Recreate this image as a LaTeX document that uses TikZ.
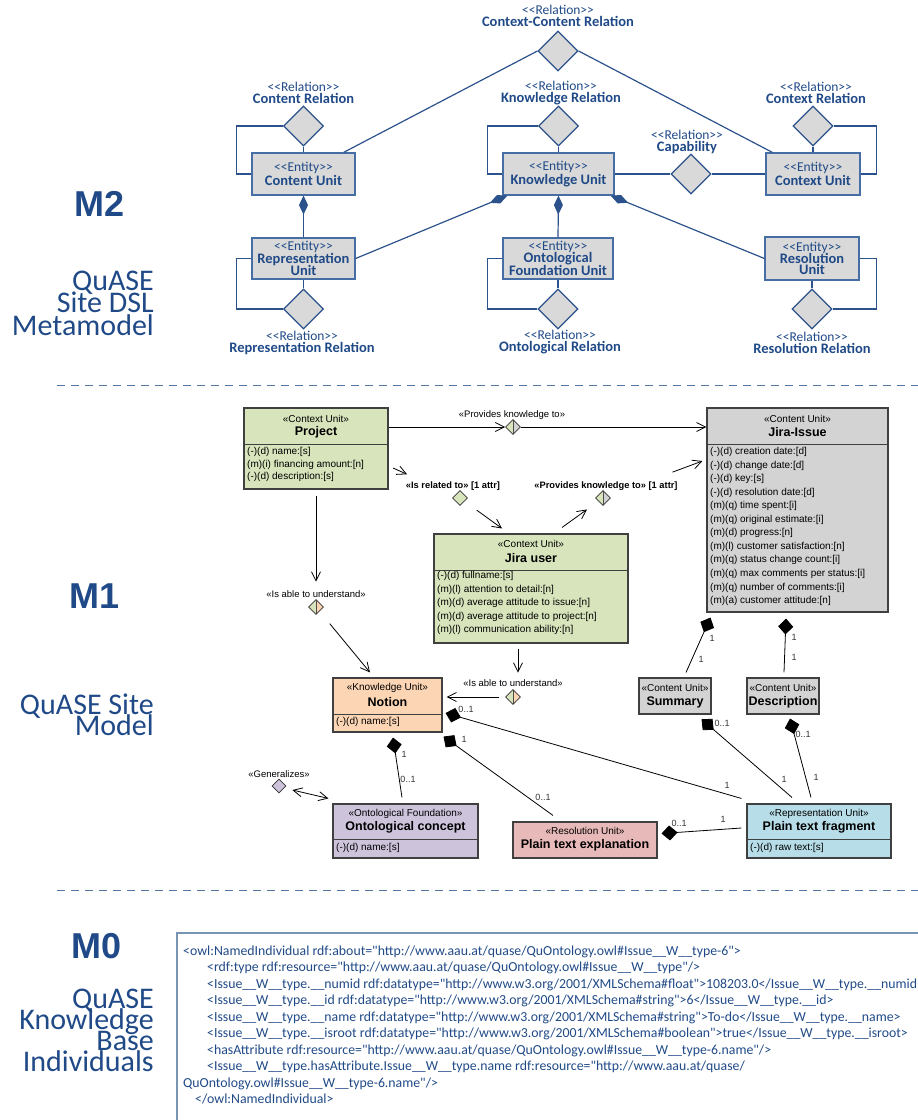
\documentclass[tikz,border=0pt]{standalone}
\usepackage{fontspec}
\usetikzlibrary{arrows.meta,shapes.geometric}
\newfontfamily\calf{Carlito}
\newfontfamily\arif{Liberation Sans}
\definecolor{mblue}{RGB}{32,74,135}
\definecolor{mline}{RGB}{44,82,140}
\definecolor{mbord}{RGB}{70,110,165}
\definecolor{mgray}{RGB}{217,217,217}
\definecolor{pgreen}{RGB}{216,228,188}
\definecolor{pgray}{RGB}{211,211,211}
\definecolor{ppeach}{RGB}{252,213,180}
\definecolor{plav}{RGB}{205,196,220}
\definecolor{ppink}{RGB}{231,185,184}
\definecolor{pblue}{RGB}{183,221,232}
\definecolor{dashc}{RGB}{84,118,163}
\definecolor{mzbox}{RGB}{120,150,180}
\newcommand\mtb[1]{{\fontsize{14.5}{12}\selectfont\bfseries #1}}
\begin{document}
\begin{tikzpicture}[x=1pt,y=-1pt,
  m2ent/.style={rectangle, draw=mbord, fill=mgray, line width=1.2pt, inner sep=0pt, align=center, text=mblue, font=\calf\fontsize{13.5}{12}\selectfont},
  m2rel/.style={diamond, draw=mline, fill=mgray, line width=1.2pt, minimum width=40pt, minimum height=40pt, inner sep=0pt},
  m2lab/.style={align=center, text=mblue, inner sep=0pt, font=\calf\fontsize{13.5}{12}\selectfont},
  m2ln/.style={draw=mline, line width=1.2pt},
  m2comp/.style={m2ln, {Diamond[length=19pt,width=9pt,fill=mline]}-},
  umlbox/.style={rectangle, draw=black!75, line width=1.1pt, inner sep=0pt},
  umlsep/.style={draw=black!75, line width=0.9pt},
  umlst/.style={inner sep=0pt, font=\arif\fontsize{10}{11}\selectfont},
  umlnm/.style={inner sep=0pt, font=\arif\bfseries\fontsize{12.5}{13}\selectfont},
  umlat/.style={inner sep=0pt, anchor=west, font=\arif\fontsize{10}{11}\selectfont},
  umllab/.style={inner sep=0pt, font=\arif\fontsize{9.5}{11}\selectfont},
  umlblab/.style={inner sep=0pt, font=\arif\bfseries\fontsize{9.3}{11}\selectfont},
  umlmult/.style={inner sep=0pt, text=black!80, font=\arif\fontsize{9}{11}\selectfont},
  umlln/.style={draw=black, line width=0.8pt},
  umlarr/.style={umlln, -{Straight Barb[length=9pt,width=9pt]}},
  umlcomp/.style={umlln, {Diamond[length=16pt,width=15pt,fill=black]}-},
  umldia/.style={diamond, draw=black!80, line width=0.8pt, minimum width=15pt, minimum height=15pt, inner sep=0pt},
  umlhalf/.style 2 args={umldia, fill=#2, path picture={\fill[#1] (path picture bounding box.south west) rectangle (path picture bounding box.north); \draw[black!70, line width=0.5pt] (path picture bounding box.south) -- (path picture bounding box.north);}},
  sidebig/.style={inner sep=0pt, text=mblue, font=\arif\bfseries\fontsize{36}{40}\selectfont},
  sidedesc/.style={inner sep=0pt, anchor=base east, text=mblue, font=\calf\fontsize{30}{22}\selectfont},
  mzcode/.style={inner sep=0pt, anchor=base west, text=mblue, font=\calf\fontsize{13.8}{16}\selectfont},
  dashl/.style={draw=dashc, line width=1pt, dash pattern=on 8pt off 6pt}
]
\useasboundingbox (0,0) rectangle (918,1120);

% ---------------- side labels ----------------
\node[sidebig] (m2) at (100,204) {M2};
\node[sidedesc] (m2a) at (154,290) {QuASE};
\node[sidedesc] (m2b) at (154,312.5) {Site DSL};
\node[sidedesc] (m2c) at (154,335) {Metamodel};
\node[sidebig] (m1) at (95,596) {M1};
\node[sidedesc] (m1a) at (154,714.5) {QuASE Site};
\node[sidedesc] (m1b) at (154,735) {Model};
\node[sidebig] (m0) at (97,946) {M0};
\node[sidedesc] (m0a) at (154,1008) {QuASE};
\node[sidedesc] (m0b) at (154,1029) {Knowledge};
\node[sidedesc] (m0c) at (154,1050) {Base};
\node[sidedesc] (m0d) at (154,1071) {Individuals};

\draw[dashl] (57,385) -- (918,385);
\draw[dashl] (57,890) -- (918,890);

% ---------------- M2 ----------------
\node[m2rel] (ccrel) at (558,51) {};
\node[m2lab] (ccrelL) at (558,16) {<<Relation>>\\\mtb{Context-Content Relation}};
\node[m2rel] (crel) at (303.5,126) {};
\node[m2lab] (crelL) at (303.5,93) {<<Relation>>\\\mtb{Content Relation}};
\node[m2rel] (krel) at (558.5,126) {};
\node[m2lab] (krelL) at (561,93) {<<Relation>>\\\mtb{Knowledge Relation}};
\node[m2rel] (xrel) at (813,126) {};
\node[m2lab] (xrelL) at (816,93) {<<Relation>>\\\mtb{Context Relation}};
\node[m2rel] (cap) at (691,174) {};
\node[m2lab] (capL) at (687,142) {<<Relation>>\\\mtb{Capability}};
\node[m2rel] (rrel) at (303.5,309) {};
\node[m2lab] (rrelL) at (302,342.5) {<<Relation>>\\\mtb{Representation Relation}};
\node[m2rel] (orel) at (558,309) {};
\node[m2lab] (orelL) at (560,342.5) {<<Relation>>\\\mtb{Ontological Relation}};
\node[m2rel] (srel) at (812,309) {};
\node[m2lab] (srelL) at (812,342.5) {<<Relation>>\\\mtb{Resolution Relation}};

\node[m2ent, minimum width=103pt, minimum height=42pt] (cu) at (303.5,174) {<<Entity>>\\\mtb{Content Unit}};
\node[m2ent, minimum width=111pt, minimum height=42pt] (ku) at (558.5,174) {<<Entity>>\\\mtb{Knowledge Unit}};
\node[m2ent, minimum width=94pt, minimum height=42pt] (xu) at (813,174) {<<Entity>>\\\mtb{Context Unit}};
\node[m2ent, minimum width=103pt, minimum height=41pt] (ru) at (303.5,258.5) {<<Entity>>\\[-1pt]\mtb{Representation}\\[-1pt]\mtb{Unit}};
\node[m2ent, minimum width=110pt, minimum height=41pt] (ou) at (558,258.5) {<<Entity>>\\[-1pt]\mtb{Ontological}\\[-1pt]\mtb{Foundation Unit}};
\node[m2ent, minimum width=94pt, minimum height=43pt] (su) at (812,258.5) {<<Entity>>\\[-1pt]\mtb{Resolution}\\[-1pt]\mtb{Unit}};

\draw[m2ln] (ccrel.west) -- ([xshift=-12pt]cu.north east);
\draw[m2ln] (ccrel.east) -- ([xshift=7pt]xu.north west);
\draw[m2ln] (crel.south) -- (cu.north);
\draw[m2ln] (crel.west) -| ([xshift=-15pt]cu.west) -- (cu.west);
\draw[m2ln] (krel.south) -- (ku.north);
\draw[m2ln] (krel.west) -| ([xshift=-15pt]ku.west) -- (ku.west);
\draw[m2ln] (xrel.south) -- (xu.north);
\draw[m2ln] (xrel.east) -| ([xshift=16pt]xu.east) -- (xu.east);
\draw[m2ln] (ku.east) -- (cap.west);
\draw[m2ln] (cap.east) -- (xu.west);
\draw[m2ln] (rrel.north) -- (ru.south);
\draw[m2ln] (rrel.west) -| ([xshift=-15pt]ru.west) -- (ru.west);
\draw[m2ln] (orel.north) -- (ou.south);
\draw[m2ln] (orel.west) -| ([xshift=-15pt]ou.west) -- (ou.west);
\draw[m2ln] (srel.north) -- (su.south);
\draw[m2ln] (srel.east) -| ([xshift=17pt]su.east) -- (su.east);
\draw[m2comp] (cu.south) -- (ru.north);
\draw[m2comp] (ku.south) -- (ou.north);
\draw[m2comp] ([xshift=5pt]ku.south west) -- (ru.east);
\draw[m2comp] ([xshift=-4pt]ku.south east) -- (su.west);

% ---------------- M1 boxes ----------------
\node[umlbox, fill=pgreen, minimum width=144pt, minimum height=81pt] (proj) at (316,448.5) {};
\draw[umlsep] (244,444) -- (388,444);
\node[umlst] (projS) at (316,419) {«Context Unit»};
\node[umlnm] (projN) at (316,432) {Project};
\node[umlat] (projA1) at (247,452) {(-)(d) name:[s]};
\node[umlat] (projA2) at (247,464.5) {(m)(i) financing amount:[n]};
\node[umlat] (projA3) at (247,477) {(-)(d) description:[s]};

\node[umlbox, fill=pgray, minimum width=181pt, minimum height=204pt] (ji) at (797.5,510) {};
\draw[umlsep] (707,444) -- (888,444);
\node[umlst] (jiS) at (797.5,419) {«Content Unit»};
\node[umlnm] (jiN) at (797.5,432) {Jira-Issue};
\foreach \t [count=\i] in {{(-)(d) creation date:[d]},{(-)(d) change date:[d]},{(-)(d) key:[s]},{(-)(d) resolution date:[d]},{(m)(q) time spent:[i]},{(m)(q) original estimate:[i]},{(m)(d) progress:[n]},{(m)(l) customer satisfaction:[n]},{(m)(q) status change count:[i]},{(m)(q) max comments per status:[i]},{(m)(q) number of comments:[i]},{(m)(a) customer attitude:[n]}}
  \node[umlat] (jiA\i) at (710,{452+13.55*(\i-1)}) {\t};

\node[umlbox, fill=pgreen, minimum width=194pt, minimum height=109pt] (ju) at (531,588.5) {};
\draw[umlsep] (434,570) -- (628,570);
\node[umlst] (juS) at (531,544) {«Context Unit»};
\node[umlnm] (juN) at (531,558) {Jira user};
\foreach \t [count=\i] in {{(-)(d) fullname:[s]},{(m)(l) attention to detail:[n]},{(m)(d) average attitude to issue:[n]},{(m)(d) average attitude to project:[n]},{(m)(l) communication ability:[n]}}
  \node[umlat] (juA\i) at (437,{576+13.5*(\i-1)}) {\t};

\node[umlbox, fill=ppeach, minimum width=109pt, minimum height=54pt] (notion) at (387.5,705) {};
\draw[umlsep] (333,714) -- (442,714);
\node[umlst] (notS) at (387.5,688) {«Knowledge Unit»};
\node[umlnm] (notN) at (387.5,702) {Notion};
\node[umlat] (notA) at (336,722) {(-)(d) name:[s]};

\node[umlbox, fill=plav, minimum width=145pt, minimum height=54pt] (oc) at (405.5,831) {};
\draw[umlsep] (333,839) -- (478,839);
\node[umlst] (ocS) at (405.5,814) {«Ontological Foundation»};
\node[umlnm] (ocN) at (405.5,827) {Ontological concept};
\node[umlat] (ocA) at (336,848) {(-)(d) name:[s]};

\node[umlbox, fill=ppink, minimum width=144pt, minimum height=36pt] (pte) at (585,840) {};
\node[umlst] (pteS) at (585,831) {«Resolution Unit»};
\node[umlnm] (pteN) at (585,845) {Plain text explanation};

\node[umlbox, fill=pblue, minimum width=144pt, minimum height=54pt] (ptf) at (819,831) {};
\draw[umlsep] (747,839) -- (891,839);
\node[umlst] (ptfS) at (819,814) {«Representation Unit»};
\node[umlnm] (ptfN) at (819,827) {Plain text fragment};
\node[umlat] (ptfA) at (750,848) {(-)(d) raw text:[s]};

\node[umlbox, fill=pgray, minimum width=72pt, minimum height=36pt] (sum) at (675,696) {};
\node[umlst] (sumS) at (675,688) {«Content Unit»};
\node[umlnm] (sumN) at (675,702) {Summary};
\node[umlbox, fill=pgray, minimum width=72pt, minimum height=36pt] (desc) at (783,696) {};
\node[umlst] (descS) at (783,688) {«Content Unit»};
\node[umlnm] (descN) at (783,702) {Description};

% ---------------- M1 relations ----------------
\node[umlhalf={pgreen}{pgray}] (d1) at (513,427) {};
\node[umllab] (d1L) at (512,415) {«Provides knowledge to»};
\draw[umlarr] (proj.east |- d1.west) -- (d1.west);
\draw[umlarr] (d1.east) -- (ji.west |- d1.east);

\node[umldia, fill=pgreen] (d2) at (460,498) {};
\node[umlblab] (d2L) at (453,486) {«Is related to» [1 attr]};
\draw[umlarr, shorten <=5pt, shorten >=52pt] ([yshift=-17.5pt]proj.east) -- (d2);
\draw[umlarr, shorten <=15pt] (d2) -- ([xshift=-29pt,yshift=5pt]ju.north);

\node[umlhalf={pgreen}{pgray}] (d3) at (603,498) {};
\node[umlblab] (d3L) at (606,486) {«Provides knowledge to» [1 attr]};
\draw[umlarr, shorten >=14pt] ([xshift=31pt,yshift=6pt]ju.north) -- (d3);
\draw[umlarr, shorten <=68pt] (d3) -- ([xshift=-4pt,yshift=49pt]ji.west);

\node[umlhalf={pgreen}{ppeach}] (d4) at (316,607) {};
\node[umllab] (d4L) at (316,594) {«Is able to understand»};
\draw[umlarr, shorten <=6pt] (proj.south) -- ([yshift=17.5pt]d4.north);
\draw[umlarr, shorten <=16pt] (d4) -- ([xshift=-17.5pt,yshift=5pt]notion.north);

\node[umlhalf={pgreen}{ppeach}] (d5) at (513,697) {};
\node[umllab] (d5L) at (513,683) {«Is able to understand»};
\draw[umlarr, shorten <=5pt] ([xshift=-13pt]ju.south) -- ([xshift=5pt,yshift=16.5pt]d5.north);
\draw[umlarr, shorten <=6pt, shorten >=4pt] (d5.west) -- (notion.east |- d5.west);

\node[umldia, fill=plav, minimum width=14pt, minimum height=14pt] (gen) at (279,786) {};
\node[umllab] (genL) at (279,774) {«Generalizes»};
\draw[umlln, {Straight Barb[length=9pt,width=9pt]}-{Straight Barb[length=9pt,width=9pt]}] ([xshift=6pt,yshift=-4pt]gen.east) -- ([xshift=-4pt,yshift=5pt]oc.north west);

% compositions
\draw[umlcomp] ([xshift=3pt,yshift=-8pt]notion.east) -- ([xshift=-5pt,yshift=5pt]ptf.north west);
\draw[umlcomp] ([xshift=1pt,yshift=-4pt]notion.south east) -- ([xshift=-32pt,yshift=6pt]pte.north);
\draw[umlcomp] ([xshift=5.5pt,yshift=-5pt]notion.south) -- ([xshift=-3.5pt,yshift=6pt]oc.north);
\draw[umlcomp] ([xshift=4pt,yshift=6.5pt]pte.east) -- ([xshift=-5pt,yshift=3pt]ptf.west);
\draw[umlcomp] ([xshift=-10pt,yshift=-4.7pt]sum.south east) -- ([xshift=-27pt,yshift=6pt]ptf.north);
\draw[umlcomp] ([xshift=7pt,yshift=-4pt]desc.south) -- ([xshift=-8pt,yshift=6pt]ptf.north);
\draw[umlcomp] ([xshift=4pt,yshift=-5pt]ji.south west) -- ([xshift=11pt,yshift=5pt]sum.north);
\draw[umlcomp] ([xshift=-11.5pt,yshift=-6pt]ji.south) -- ([xshift=1pt,yshift=5pt]desc.north);

% multiplicities
\node[umlmult] (mu1) at (466,709) {0..1};
\node[umlmult] (mu2) at (727,785) {1};
\node[umlmult] (mu3) at (464,739) {1};
\node[umlmult] (mu4) at (543,797) {0..1};
\node[umlmult] (mu5) at (404,754) {1};
\node[umlmult] (mu6) at (408,779) {0..1};
\node[umlmult] (mu7) at (679,823) {0..1};
\node[umlmult] (mu8) at (723,819) {1};
\node[umlmult] (mu9) at (722,723) {0..1};
\node[umlmult] (mu10) at (784,779) {1};
\node[umlmult] (mu11) at (803,734) {0..1};
\node[umlmult] (mu12) at (816,777) {1};
\node[umlmult] (mu13) at (712,638) {1};
\node[umlmult] (mu14) at (701,659) {1};
\node[umlmult] (mu15) at (794,637) {1};
\node[umlmult] (mu16) at (794,657) {1};

% ---------------- M0 ----------------
\draw[draw=mzbox, line width=2pt] (177,1122) -- (177,933) -- (920,933);
\node[mzcode] (c1) at (183,955) {<owl:NamedIndividual rdf:about="http://www.aau.at/quase/QuOntology.owl\#Issue\_\_W\_\_type-6">};
\node[mzcode] (c2) at (207,971.5) {<rdf:type rdf:resource="http://www.aau.at/quase/QuOntology.owl\#Issue\_\_W\_\_type"/>};
\node[mzcode] (c3) at (207,988) {<Issue\_\_W\_\_type.\_\_numid rdf:datatype="http://www.w3.org/2001/XMLSchema\#float">108203.0</Issue\_\_W\_\_type.\_\_numid>};
\node[mzcode] (c4) at (207,1004.5) {<Issue\_\_W\_\_type.\_\_id rdf:datatype="http://www.w3.org/2001/XMLSchema\#string">6</Issue\_\_W\_\_type.\_\_id>};
\node[mzcode] (c5) at (207,1021) {<Issue\_\_W\_\_type.\_\_name rdf:datatype="http://www.w3.org/2001/XMLSchema\#string">To-do</Issue\_\_W\_\_type.\_\_name>};
\node[mzcode] (c6) at (207,1037.5) {<Issue\_\_W\_\_type.\_\_isroot rdf:datatype="http://www.w3.org/2001/XMLSchema\#boolean">true</Issue\_\_W\_\_type.\_\_isroot>};
\node[mzcode] (c7) at (207,1054) {<hasAttribute rdf:resource="http://www.aau.at/quase/QuOntology.owl\#Issue\_\_W\_\_type-6.name"/>};
\node[mzcode] (c8) at (207,1070.5) {<Issue\_\_W\_\_type.hasAttribute.Issue\_\_W\_\_type.name rdf:resource="http://www.aau.at/quase/};
\node[mzcode] (c9) at (183,1087) {QuOntology.owl\#Issue\_\_W\_\_type-6.name"/>};
\node[mzcode] (c10) at (195,1103.5) {</owl:NamedIndividual>};
\end{tikzpicture}
\end{document}
